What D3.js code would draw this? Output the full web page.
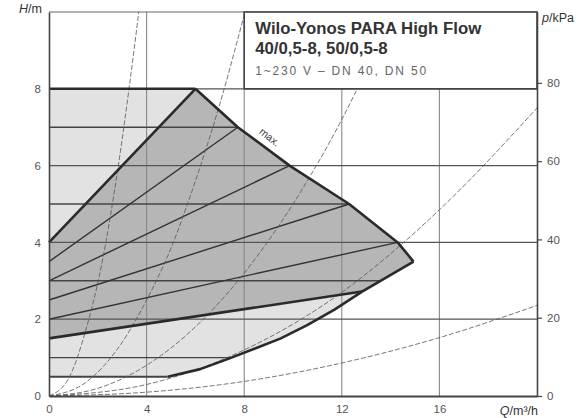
<!DOCTYPE html>
<html>
<head>
<meta charset="utf-8">
<script src="https://cdn.jsdelivr.net/npm/d3@7"></script>
<style>
body { margin: 0; background: #fff; }
svg { font-family: "Liberation Sans", Arial, sans-serif; }
.tick text { fill: #555; font-size: 11.5px; }
</style>
</head>
<body>
<div id="chart"></div>
<script>
// tick labels
var qTicks = [0, 4, 8, 12, 16];
var hTicks = [0, 2, 4, 6, 8];
var pTicks = [0, 20, 40, 60, 80];

// max. curve (Q m3/h, H m)
var maxCurve = [[6, 8], [7.74, 7], [9.86, 6], [12.3, 5], [14.29, 4], [14.94, 3.5]];
// lower limit of the field, from the tip back to the 0.5 m line
var minCurve = [[14.94, 3.5], [12.83, 2.72], [11.7, 2.25], [10.6, 1.85], [9.5, 1.5], [8.5, 1.25], [7.4, 0.98], [6.2, 0.7], [4.87, 0.5]];

// dp-c lines: set head and the Q where each line stops
var dpcHeads = [0.5, 1, 3, 5, 7];
var dpcEnds = [4.87, 7.4, 13.59, 12.3, 7.74];

// dp-v lines: head at Q=0 and the point where they stop
var dpvStart = [2, 2.5, 3, 3.5];
var dpvEnd = [[14.29, 4], [12.3, 5], [9.86, 6], [7.74, 7]];
// the two thick dp-v limits (min 3 m, max 8 m)
var dpvMin = [[0, 1.5], [12.83, 2.72]];
var dpvMax = [[0, 4], [6, 8]];

// system curves (dashed)
var sysCurves = [
	[[0, 0], [0.8, 0.45], [1.5, 1.7], [2.15, 3.4], [2.83, 5.95], [3.3, 8.1], [3.68, 10]],
	[[0, 0], [1.5, 0.35], [3, 1.4], [4, 2.5], [5, 3.85], [6, 5.6], [7, 7.6], [8.03, 10]],
	[[0, 0], [2, 0.2], [4, 0.8], [6, 1.8], [8, 3.2], [10, 5], [12, 7.2], [14.1, 10]],
	[[0, 0], [4, 0.3], [8, 1.2], [12, 2.7], [16, 4.85], [20, 7.5]],
	[[0, 0], [4, 0.1], [8, 0.38], [12, 0.86], [16, 1.52], [20, 2.36]]
];

var margin = {top: 12, right: 50, bottom: 22, left: 49},
	width = 587 - margin.left - margin.right,
	height = 418 - margin.top - margin.bottom;

var x = d3.scaleLinear().domain([0, 20]).range([0, width]),
	y = d3.scaleLinear().domain([0, 10]).range([height, 0]),
	yP = d3.scaleLinear().domain([0, 98.1]).range([height, 0]); // 1 m = 9.81 kPa

var line = d3.line()
	.x(function(d) { return x(d[0]); })
	.y(function(d) { return y(d[1]); });

var smooth = d3.line()
	.x(function(d) { return x(d[0]); })
	.y(function(d) { return y(d[1]); })
	.curve(d3.curveMonotoneX);

var svg = d3.select("#chart")
	.append("svg")
	.attr("width", width + margin.left + margin.right)
	.attr("height", height + margin.top + margin.bottom)
	.append("g")
	.attr("transform", "translate(" + margin.left + "," + margin.top + ")");

// light field (dp-c range)
var lightField = [[0, 0.5], [0, 8]].concat(maxCurve, minCurve);
svg.append("path")
	.attr("d", line(lightField) + "Z")
	.attr("fill", "#e2e2e2");

// dark field (dp-v range)
var darkField = [dpvMin[0], dpvMax[0]].concat(maxCurve, [dpvMin[1]]);
svg.append("path")
	.attr("d", line(darkField) + "Z")
	.attr("fill", "#b6b6b6");

// grid
svg.append("g")
	.selectAll("line")
	.data(qTicks.slice(1))
	.enter().append("line")
	.attr("x1", function(d) { return x(d); })
	.attr("x2", function(d) { return x(d); })
	.attr("y1", 0)
	.attr("y2", height)
	.attr("stroke", "#888")
	.attr("stroke-width", 1.1);

svg.append("g")
	.selectAll("line")
	.data(hTicks.slice(1))
	.enter().append("line")
	.attr("x1", 0)
	.attr("x2", width)
	.attr("y1", function(d) { return y(d); })
	.attr("y2", function(d) { return y(d); })
	.attr("stroke", "#555")
	.attr("stroke-width", 1.2);

svg.append("line")
	.attr("x1", 0).attr("x2", width)
	.attr("y1", 0).attr("y2", 0)
	.attr("stroke", "#666");

// dp-c lines
svg.append("g")
	.selectAll("line")
	.data(dpcHeads)
	.enter().append("line")
	.attr("x1", 0)
	.attr("x2", function(d, i) { return x(dpcEnds[i]); })
	.attr("y1", function(d) { return y(d); })
	.attr("y2", function(d) { return y(d); })
	.attr("stroke", "#444")
	.attr("stroke-width", function(d) { return d == 0.5 ? 2 : 1.4; });

// dp-v lines
svg.append("g")
	.selectAll("path")
	.data(dpvStart)
	.enter().append("path")
	.attr("d", function(d, i) { return line([[0, d], dpvEnd[i]]); })
	.attr("fill", "none")
	.attr("stroke", "#333")
	.attr("stroke-width", 1.4);

// system curves
svg.append("g")
	.selectAll("path")
	.data(sysCurves)
	.enter().append("path")
	.attr("d", smooth)
	.attr("fill", "none")
	.attr("stroke", "#555")
	.attr("stroke-width", 0.8)
	.attr("stroke-dasharray", "5,2");

// thick limits
var thick = [
	[[0, 8], [6, 8]],
	dpvMax,
	dpvMin,
	maxCurve,
	minCurve
];
svg.append("g")
	.selectAll("path")
	.data(thick)
	.enter().append("path")
	.attr("d", line)
	.attr("fill", "none")
	.attr("stroke", "#2a2a2a")
	.attr("stroke-width", 2.6)
	.attr("stroke-linejoin", "round");

svg.append("text")
	.attr("transform", "translate(" + (x(8.5) + 2) + "," + y(6.85) + ") rotate(38)")
	.attr("font-size", 10.5)
	.attr("fill", "#444")
	.text("max.");

// title box
var box = svg.append("g");
box.append("rect")
	.attr("x", x(8))
	.attr("y", y(10))
	.attr("width", x(20) - x(8))
	.attr("height", y(8) - y(10))
	.attr("fill", "#fff")
	.attr("stroke", "#444")
	.attr("stroke-width", 1.6);

box.append("text")
	.attr("x", x(8) + 11)
	.attr("y", 22)
	.attr("font-size", 16.8)
	.attr("font-weight", "bold")
	.attr("fill", "#333")
	.text("Wilo-Yonos PARA High Flow");

box.append("text")
	.attr("x", x(8) + 11)
	.attr("y", 42)
	.attr("font-size", 16.8)
	.attr("font-weight", "bold")
	.attr("fill", "#333")
	.text("40/0,5-8, 50/0,5-8");

box.append("text")
	.attr("x", x(8) + 11)
	.attr("y", 63)
	.attr("font-size", 12)
	.attr("letter-spacing", 1.8)
	.attr("fill", "#666")
	.text("1~230 V \u2013 DN 40, DN 50");

// axes
var xAxis = svg.append("g")
	.attr("transform", "translate(0," + height + ")")
	.call(d3.axisBottom(x).tickValues(qTicks).tickSize(0).tickSizeOuter(0).tickPadding(9));
xAxis.select(".domain").attr("stroke", "#444").attr("stroke-width", 2);

var yAxis = svg.append("g")
	.call(d3.axisLeft(y).tickValues(hTicks).tickSize(0).tickSizeOuter(0).tickPadding(8));
yAxis.select(".domain").attr("stroke", "#444").attr("stroke-width", 1.6);

var pAxis = svg.append("g")
	.attr("transform", "translate(" + width + ",0)")
	.call(d3.axisRight(yP).tickValues(pTicks).tickSize(5).tickSizeOuter(0).tickPadding(5));
pAxis.select(".domain").attr("stroke", "#444").attr("stroke-width", 1.6);
pAxis.selectAll(".tick line").attr("stroke", "#444").attr("stroke-width", 1.2);

svg.selectAll(".tick text").attr("font-family", "Liberation Sans, Arial, sans-serif");

// axis titles
var hLabel = svg.append("text")
	.attr("x", -7)
	.attr("y", 13 - margin.top)
	.attr("text-anchor", "end")
	.attr("font-size", 12.5)
	.attr("fill", "#333");
hLabel.append("tspan").attr("font-style", "italic").text("H");
hLabel.append("tspan").text("/m");

var pLabel = svg.append("text")
	.attr("x", width + 5)
	.attr("y", 18 - margin.top + 4)
	.attr("font-size", 12.5)
	.attr("fill", "#333");
pLabel.append("tspan").attr("font-style", "italic").text("p");
pLabel.append("tspan").text("/kPa");

var qLabel = svg.append("text")
	.attr("x", width + 1)
	.attr("y", height + 19)
	.attr("text-anchor", "end")
	.attr("font-size", 12.5)
	.attr("fill", "#333");
qLabel.append("tspan").attr("font-style", "italic").text("Q");
qLabel.append("tspan").text("/m\u00b3/h");
</script>
</body>
</html>
